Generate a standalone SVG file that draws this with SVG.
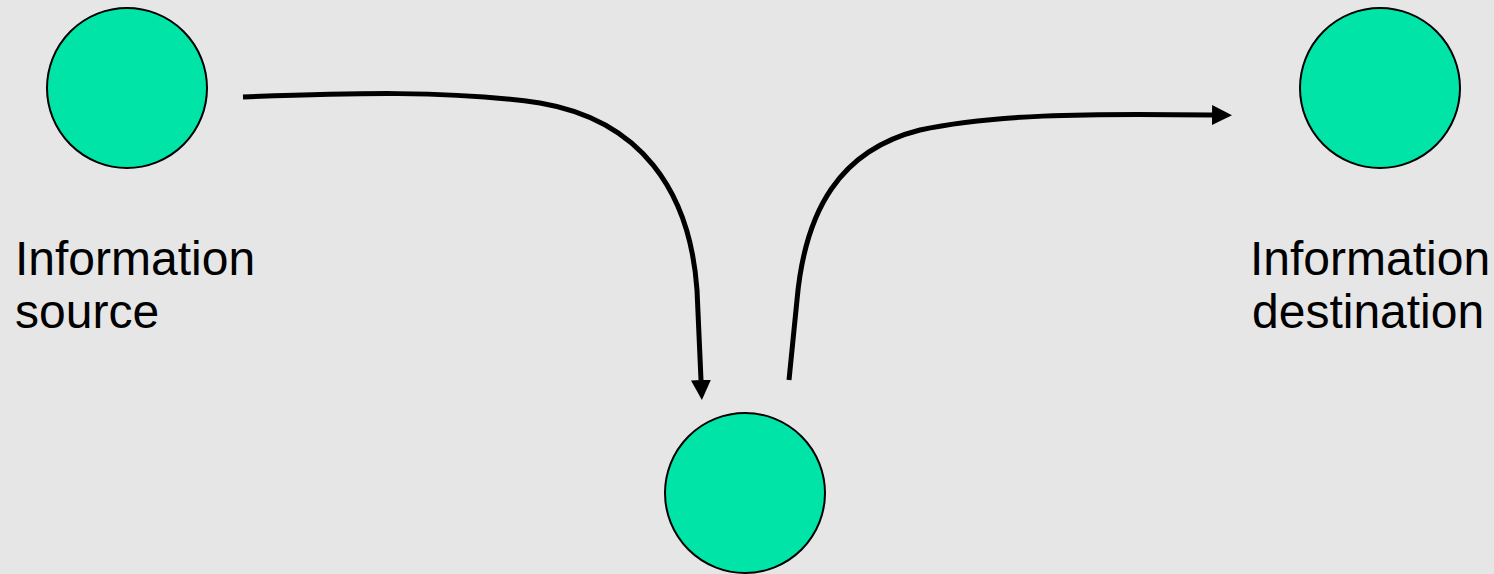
<svg xmlns="http://www.w3.org/2000/svg" width="1494" height="574" viewBox="0 0 1494 574">
<style>
.node{fill:#00e4a7;stroke:#000;stroke-width:2}
.lbl{font-family:"Liberation Sans",Arial,sans-serif;font-size:48px;fill:#000}
.conn{fill:none;stroke:#000;stroke-width:5}
</style>
<defs>
<marker id="ah" markerUnits="userSpaceOnUse" markerWidth="20" markerHeight="20" viewBox="0 0 18 18" refX="0" refY="9" orient="auto">
<path d="M0,0 L18,9 L0,18 Z" fill="#000"/>
</marker>
</defs>
<rect width="1494" height="574" fill="#e6e6e6"/>
<g id="source">
<circle class="node" cx="127" cy="88" r="80"/>
<text class="lbl" x="15" y="275">Information</text>
<text class="lbl" x="15" y="328">source</text>
</g>
<g id="middle">
<circle class="node" cx="745" cy="493" r="80"/>
</g>
<g id="destination">
<circle class="node" cx="1380" cy="88" r="80"/>
<text class="lbl" x="1250" y="275">Information</text>
<text class="lbl" x="1252" y="328">destination</text>
</g>
<g id="connectors">
<path class="conn" d="M243,97 C350,93 450,90 540,103 C640,120 690,190 697,290 L701,380" marker-end="url(#ah)"/>
<path class="conn" d="M789,380 L797,300 C805,210 840,150 920,130 C990,115 1080,113 1212,115" marker-end="url(#ah)"/>
</g>
</svg>
